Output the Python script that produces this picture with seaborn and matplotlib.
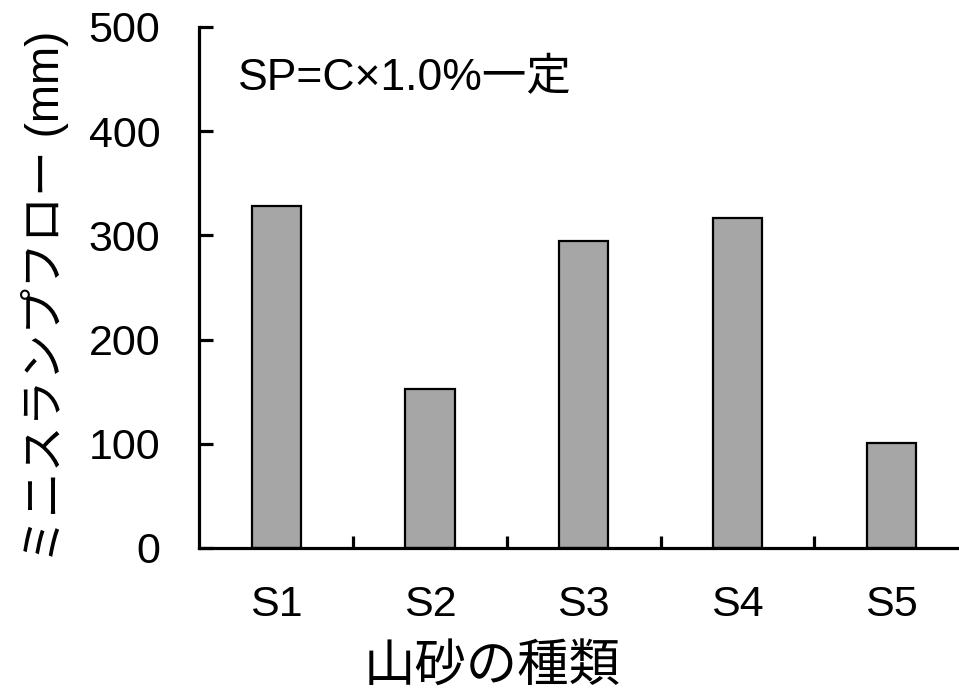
import matplotlib
matplotlib.use("Agg")
import matplotlib.pyplot as plt
import pandas as pd
import seaborn as sns

# values
sands = ["S1", "S2", "S3", "S4", "S5"]
flow = [328, 153, 295, 317, 101]

y_ticks = [0, 100, 200, 300, 400, 500]
x_title = "山砂の種類"
y_title = "ミニスランプフロー (mm)"
note = "SP=C×1.0%一定"

df = pd.DataFrame({"sand": sands, "flow": flow})

sns.set_style("white")
plt.rcParams["font.family"] = ["Liberation Sans", "Noto Sans CJK JP"]
plt.rcParams["text.color"] = "black"
plt.rcParams["xtick.color"] = "black"
plt.rcParams["ytick.color"] = "black"

fig = plt.figure(figsize=(9.59, 6.92), dpi=100)
ax = fig.add_axes([0.2078, 0.2081, 0.8019, 0.7529])

sns.barplot(data=df, x="sand", y="flow", color="#a6a6a6", saturation=1,
            edgecolor="black", linewidth=1.6, width=0.32, ax=ax)

ax.set_xlim(-0.5, 4.5)
ax.set_ylim(0, 500)
ax.set_yticks(y_ticks)

# only left and bottom axis lines
for side in ["top", "right"]:
    ax.spines[side].set_visible(False)
for side in ["left", "bottom"]:
    ax.spines[side].set_linewidth(2.3)
    ax.spines[side].set_color("black")
ax.spines["left"].set_capstyle("projecting")

# ticks between categories, pointing in
ax.set_xticks([0.5, 1.5, 2.5, 3.5], minor=True)
ax.tick_params(axis="x", which="major", length=0, pad=27, labelsize=31)
ax.tick_params(axis="x", which="minor", direction="in", length=9, width=2.3,
               color="black", bottom=True)
ax.tick_params(axis="y", direction="in", length=10, width=2.3, color="black",
               pad=28, labelsize=31, left=True)

ax.set_xlabel("")
ax.set_ylabel("")
fig.text(0.513, 0.036, x_title, fontsize=37, ha="center", va="center",
         family=["Noto Sans CJK JP"])
fig.text(0.047, 0.571, y_title, fontsize=33, ha="center", va="center",
         rotation=90, family=["Liberation Sans", "Noto Sans CJK JP"])

ax.text(0.05, 0.90, note, transform=ax.transAxes, fontsize=32,
        ha="left", va="center", family=["Liberation Sans", "Noto Sans CJK JP"])

fig.savefig("out.png", dpi=100)
